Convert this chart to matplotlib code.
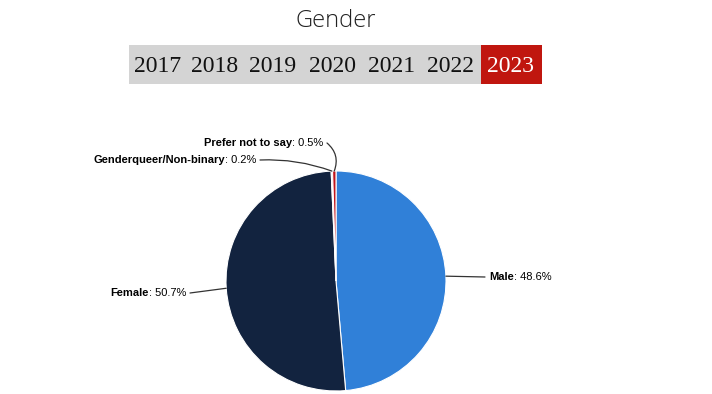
import matplotlib
matplotlib.use("Agg")
import matplotlib.pyplot as plt
import numpy as np
from matplotlib.patches import Rectangle

categories = ["Male", "Female", "Genderqueer/Non-binary", "Prefer not to say"]
values = [48.6, 50.7, 0.2, 0.5]
colors = ["#3080d8", "#12233f", "#e0e0e0", "#c0161c"]
years = ["2017", "2018", "2019", "2020", "2021", "2022", "2023"]
active_year = "2023"

W, H = 712, 394
fig = plt.figure(figsize=(W / 100, H / 100), dpi=100)
fig.patch.set_facecolor("white")

def fx(x): return x / W
def fy(y): return 1 - y / H

# Title
fig.text(fx(336), fy(21), "Gender", ha="center", va="center",
         fontsize=17, family="Open Sans", fontweight="light", color="#222222")

# Year selector
year_x = [158, 215, 273, 332, 392, 451, 511]
fig.patches.append(Rectangle((fx(129), fy(84)), fx(542) - fx(129), fy(45) - fy(84),
                             transform=fig.transFigure, facecolor="#d4d4d4", edgecolor="none"))
fig.patches.append(Rectangle((fx(481), fy(84)), fx(542) - fx(481), fy(45) - fy(84),
                             transform=fig.transFigure, facecolor="#c0160f", edgecolor="none"))
for y, x in zip(years, year_x):
    fig.text(fx(x), fy(66), y, ha="center", va="center", fontsize=17,
             family="Liberation Serif", color="white" if y == active_year else "#111111")

# Pie
cx, cy, r = 336, 281, 110
ax = fig.add_axes([fx(cx - r), fy(cy + r), 2 * r / W, 2 * r / H])
wedges, _ = ax.pie(values, colors=colors, startangle=90, counterclock=False,
                   wedgeprops=dict(edgecolor="white", linewidth=0.8))
ax.set_xlim(-1, 1); ax.set_ylim(-1, 1)
ax.set_aspect("equal")
ax.axis("off")

# label positions (figure pixels, y from top): (x, y, side)
label_pos = [(489, 277, "left"), (186, 293, "right"), (256, 160, "right"), (323, 143, "right")]
conn = ["arc3,rad=0", "arc3,rad=0", "arc3,rad=-0.1", "arc3,rad=-0.35"]

renderer = fig.canvas.get_renderer()
fs = 8
for w, cat, v, (lx, ly, side), cs in zip(wedges, categories, values, label_pos, conn):
    ang = np.deg2rad((w.theta1 + w.theta2) / 2)
    ex, ey = np.cos(ang), np.sin(ang)
    gap = 4 if side == "left" else -4
    ax.annotate("", xy=(ex, ey), xycoords="data",
                xytext=(lx + (-gap * 1.0 if side == "left" else -gap), H - ly),
                textcoords="figure pixels",
                arrowprops=dict(arrowstyle="-", color="#333333", lw=0.9,
                                connectionstyle=cs, shrinkA=0, shrinkB=0))
    if side == "left":
        t1 = fig.text(fx(lx), fy(ly), cat, ha="left", va="center", fontsize=fs,
                      family="Liberation Sans", fontweight="bold", color="#000000")
        bb = t1.get_window_extent(renderer)
        fig.text(bb.x1 / W, fy(ly), f": {v}%", ha="left", va="center", fontsize=fs,
                 family="Liberation Sans", color="#000000")
    else:
        t2 = fig.text(fx(lx), fy(ly), f": {v}%", ha="right", va="center", fontsize=fs,
                      family="Liberation Sans", color="#000000")
        bb = t2.get_window_extent(renderer)
        fig.text(bb.x0 / W, fy(ly), cat, ha="right", va="center", fontsize=fs,
                 family="Liberation Sans", fontweight="bold", color="#000000")

fig.savefig("out.png", dpi=100)
